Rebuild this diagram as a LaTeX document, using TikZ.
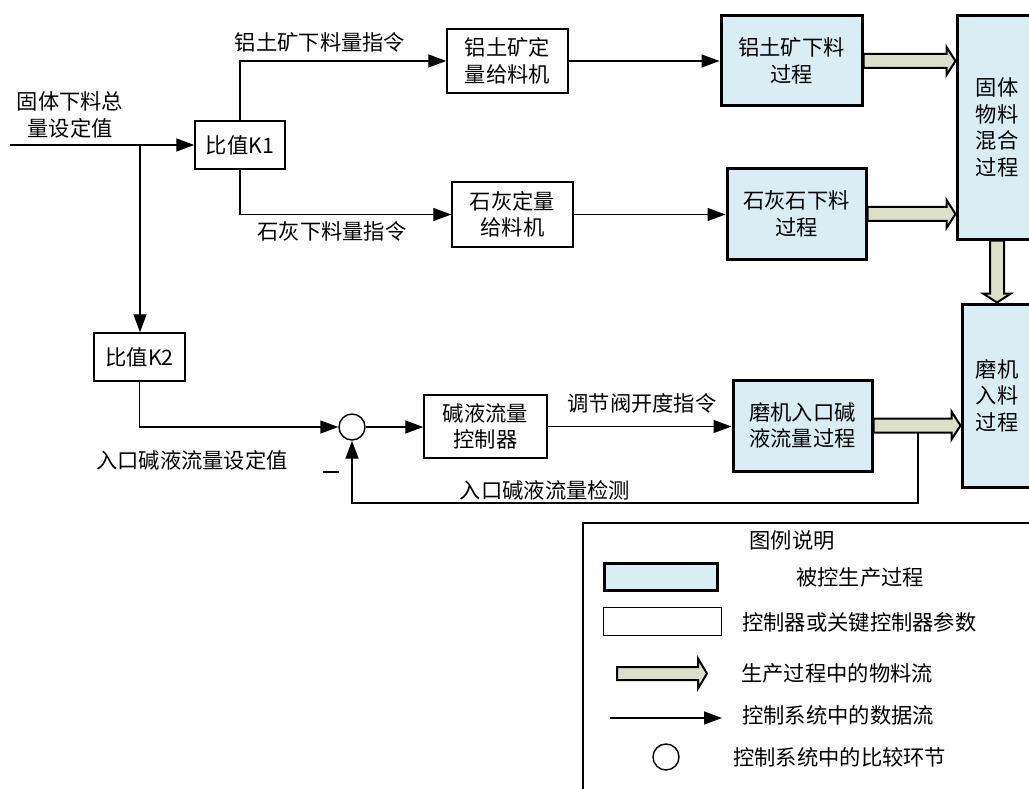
\documentclass[tikz,border=0pt]{standalone}
\usepackage{fontspec}
\setmainfont{Noto Sans CJK SC}
\usetikzlibrary{arrows.meta,calc}
\definecolor{procfill}{HTML}{DAEDF4}
\definecolor{flowfill}{HTML}{DCDFC9}
\tikzset{
  every node/.style={font=\fontsize{21.3}{26.5}\selectfont},
  ctrl/.style={draw, line width=1.5pt, fill=white, align=center, inner sep=0pt},
  proc/.style={draw, line width=3pt, fill=procfill, align=center, inner sep=0pt},
  sig/.style={line width=1.4pt, -{Triangle[length=18pt,width=13pt]}},
  plainline/.style={line width=1.4pt},
  lbl/.style={inner sep=0pt, align=center},
  matflow/.style={draw, line width=2pt, fill=flowfill, line join=miter},
  cmp/.style={draw, circle, minimum size=26pt, inner sep=0pt, line width=1.4pt, fill=white},
}
\begin{document}
\begin{tikzpicture}[x=1pt,y=-1pt]
\useasboundingbox (0,0) rectangle (1029,789);
\clip (0,0) rectangle (1029,789);
\fill[white] (0,0) rectangle (1029,789);

% nodes
\node[ctrl, minimum width=90pt, minimum height=48pt] (k1) at (240,145) {比值K1};
\node[ctrl, minimum width=121pt, minimum height=64pt] (feed1) at (507.5,61) {铝土矿定\\量给料机};
\node[ctrl, minimum width=121pt, minimum height=65pt] (feed2) at (512.5,214.5) {石灰定量\\给料机};
\node[proc, minimum width=141pt, minimum height=90pt] (p1) at (791.5,61) {铝土矿下料\\过程};
\node[proc, minimum width=139pt, minimum height=90pt] (p2) at (796.5,214) {石灰石下料\\过程};
\node[proc, minimum width=80pt, minimum height=223pt] (mix) at (997,127.5) {固体\\物料\\混合\\过程};
\node[proc, minimum width=70pt, minimum height=183pt] (mill) at (997,395.5) {磨机\\入料\\过程};
\node[ctrl, minimum width=91pt, minimum height=48pt] (k2) at (139.5,357) {比值K2};
\node[cmp] (sum) at (352,427) {};
\node[ctrl, minimum width=123pt, minimum height=63pt] (ctl) at (485.5,426.5) {碱液流量\\控制器};
\node[proc, minimum width=139pt, minimum height=91pt] (p3) at (802.5,425.5) {磨机入口碱\\液流量过程};

% labels
\node[lbl] (lin) at (70,115) {固体下料总\\量设定值};
\node[lbl] (l1) at (320,42) {铝土矿下料量指令};
\node[lbl] (l2) at (332,231) {石灰下料量指令};
\node[lbl] (l3) at (642,403) {调节阀开度指令};
\node[lbl] (l4) at (192,460) {入口碱液流量设定值};
\node[lbl] (l5) at (545,490) {入口碱液流量检测};
\draw[plainline] (323,472) -- (339,472);

% signal connectors
\coordinate (in) at (10,145);
\coordinate (j) at (140,145);
\draw[sig] (in) -- (k1.west);
\draw[sig] (j) -- (j|-k2.north);
\draw[sig] (k1.north) |- (feed1.west);
\draw[sig] (k1.south) |- (feed2.west);
\draw[sig] (feed1.east) -- (feed1.east -| p1.west);
\draw[sig] (feed2.east) -- (feed2.east -| p2.west);
\draw[sig] (k2.south) |- (sum.west);
\draw[sig] (sum.east) -- (sum.east -| ctl.west);
\draw[sig] (ctl.east) -- (ctl.east -| p3.west);
\coordinate (fbt) at (918,427);
\coordinate (fbb) at (918,503);
\draw[sig] (fbt) -- (fbb) -| (sum.south);

% material flows
\draw[matflow] let \p1=(p1.east), \p2=(mix.west) in
  (\x1,\y1+7pt) -- (\x2-9pt,\y1+7pt) -- (\x2-9pt,\y1+14pt) -- (\x2,\y1) -- (\x2-9pt,\y1-14pt) -- (\x2-9pt,\y1-7pt) -- (\x1,\y1-7pt) -- cycle;
\draw[matflow] let \p1=(p2.east), \p2=(mix.west) in
  (\x1,\y1+7pt) -- (\x2-9pt,\y1+7pt) -- (\x2-9pt,\y1+14pt) -- (\x2,\y1) -- (\x2-9pt,\y1-14pt) -- (\x2-9pt,\y1-7pt) -- (\x1,\y1-7pt) -- cycle;
\draw[matflow] let \p1=(p3.east), \p2=(mill.west) in
  (\x1,\y1+7pt) -- (\x2-9pt,\y1+7pt) -- (\x2-9pt,\y1+14pt) -- (\x2,\y1) -- (\x2-9pt,\y1-14pt) -- (\x2-9pt,\y1-7pt) -- (\x1,\y1-7pt) -- cycle;
\draw[matflow] let \p1=(mix.south), \p2=(mill.north) in
  (\x1-7pt,\y1) -- (\x1-7pt,\y2+9pt) -- (\x1-14pt,\y2+9pt) -- (\x1,\y2) -- (\x1+14pt,\y2+9pt) -- (\x1+7pt,\y2+9pt) -- (\x1+7pt,\y1) -- cycle;

% legend
\draw[line width=1.5pt] (583,523) rectangle (1045,800);
\node[lbl] (lgt) at (792,540) {图例说明};
\node[proc, minimum width=113pt, minimum height=27pt] (lgp) at (661,577) {};
\node[lbl] (lgpt) at (860,577) {被控生产过程};
\node[ctrl, minimum width=118pt, minimum height=28pt] (lgc) at (662.5,621.5) {};
\node[lbl, anchor=west] (lgct) at (742,622) {控制器或关键控制器参数};
\coordinate (lma) at (617,673.5);
\coordinate (lmb) at (707,673.5);
\draw[matflow] let \p1=(lma), \p2=(lmb) in
  (\x1,\y1+6.5pt) -- (\x2-9pt,\y1+6.5pt) -- (\x2-9pt,\y1+15pt) -- (\x2,\y1) -- (\x2-9pt,\y1-15pt) -- (\x2-9pt,\y1-6.5pt) -- (\x1,\y1-6.5pt) -- cycle;
\node[lbl, anchor=west] (lgmt) at (741,673) {生产过程中的物料流};
\coordinate (lda) at (610,718);
\coordinate (ldb) at (722,718);
\draw[sig] (lda) -- (ldb);
\node[lbl, anchor=west] (lgdt) at (742,715) {控制系统中的数据流};
\node[cmp] (lgs) at (666,757) {};
\node[lbl, anchor=west] (lgst) at (733,757) {控制系统中的比较环节};
\end{tikzpicture}
\end{document}
